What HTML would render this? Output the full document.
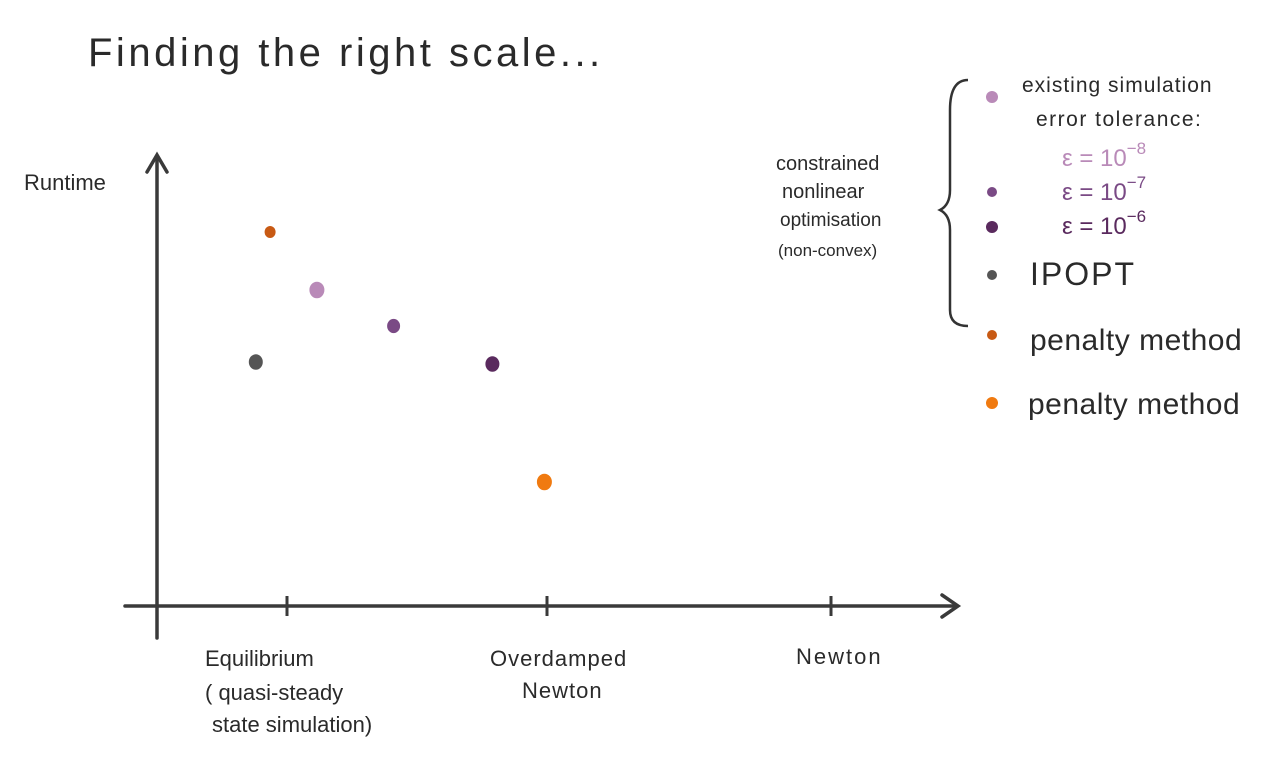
<!DOCTYPE html>
<html><head><meta charset="utf-8"><style>
html,body{margin:0;padding:0;background:#fff;width:1280px;height:768px;overflow:hidden}
svg{display:block}
text{font-family:"Liberation Sans",sans-serif;fill:#2a2a2a}
</style></head><body>
<svg id="chart" width="1280" height="768">
<text x="88" y="66" font-size="40" letter-spacing="3.5">Finding the right scale...</text>
<text x="24" y="190" font-size="22">Runtime</text>
<g stroke="#3a3a3a" stroke-width="3.5" fill="none" stroke-linecap="round">
<line x1="157" y1="638" x2="157" y2="158"/>
<polyline points="147,172 157,155 167,172"/>
<line x1="125" y1="606" x2="955" y2="606"/>
<polyline points="942,595 958,606 942,617"/>
</g>
<g id="ticks"></g>
<g id="points"></g>
<g font-size="22">
<text x="205" y="666">Equilibrium</text>
<text x="205" y="700">( quasi-steady</text>
<text x="212" y="732">state simulation)</text>
<text x="490" y="666" letter-spacing="1">Overdamped</text>
<text x="522" y="698" letter-spacing="1">Newton</text>
<text x="796" y="664" letter-spacing="2">Newton</text>
</g>
<g>
<text x="776" y="170" font-size="20">constrained</text>
<text x="782" y="198" font-size="20">nonlinear</text>
<text x="780" y="226" font-size="19">optimisation</text>
<text x="778" y="256" font-size="17">(non-convex)</text>
<path d="M968,80 Q950,80 950,110 L950,190 Q950,205 940,210 Q950,215 950,230 L950,310 Q950,326 968,326" stroke="#333" stroke-width="2.5" fill="none"/>
<circle cx="992" cy="97" r="6" fill="#b98ab8"/>
<text x="1022" y="92" font-size="21" letter-spacing="1">existing simulation</text>
<text x="1036" y="126" font-size="21" letter-spacing="1.5">error tolerance:</text>
<text x="1062" y="166" font-size="24" style="fill:#b98ab8">ε = 10<tspan dy="-12" font-size="17">−8</tspan></text>
<circle cx="992" cy="192" r="5" fill="#7a4a85"/>
<text x="1062" y="200" font-size="24" style="fill:#7a4a85">ε = 10<tspan dy="-12" font-size="17">−7</tspan></text>
<circle cx="992" cy="227" r="6" fill="#5a2a5e"/>
<text x="1062" y="234" font-size="24" style="fill:#5a2a5e">ε = 10<tspan dy="-12" font-size="17">−6</tspan></text>
<circle cx="992" cy="275" r="5" fill="#555"/>
<text x="1030" y="285" font-size="32" letter-spacing="2">IPOPT</text>
<circle cx="992" cy="335" r="5" fill="#c85a14"/>
<text x="1030" y="350" font-size="30" letter-spacing="0.5">penalty method</text>
<circle cx="992" cy="403" r="6" fill="#f07a10"/>
<text x="1028" y="414" font-size="30" letter-spacing="0.5">penalty method</text>
</g>
</svg>
<script>
const tickValues = [1, 2, 3];
const seriesNames = ["penalty-1", "existing-eps8", "eps7", "eps6", "ipopt", "penalty-2"];
const seriesX = [0.935, 1.115, 1.41, 1.79, 0.88, 1.99];
const seriesY = [9.35, 7.9, 7.0, 6.05, 6.1, 3.1];
const seriesColors = ["#c85a14", "#b98ab8", "#7a4a85", "#5a2a5e", "#555555", "#f07a10"];
const seriesSizes = [5.5, 7.5, 6.5, 7, 7, 7.5];
const xs = v => v <= 2 ? 287 + (v - 1) * 260 : 547 + (v - 2) * 284;
const ys = v => 606 - v * 40;
const NS = "http://www.w3.org/2000/svg";
const tg = document.getElementById("ticks");
tickValues.forEach((t, i) => {
  const l = document.createElementNS(NS, "line");
  l.setAttribute("x1", xs(t)); l.setAttribute("x2", xs(t));
  l.setAttribute("y1", 596); l.setAttribute("y2", 616);
  l.setAttribute("stroke", "#3a3a3a"); l.setAttribute("stroke-width", "3");
  
  
  tg.appendChild(l);
});
const pg = document.getElementById("points");
seriesX.forEach((x, i) => {
  const c = document.createElementNS(NS, "ellipse");
  c.setAttribute("cx", xs(x)); c.setAttribute("cy", ys(seriesY[i]));
  c.setAttribute("rx", seriesSizes[i]); c.setAttribute("ry", seriesSizes[i] * 1.1);
  c.setAttribute("fill", seriesColors[i]);
  
  
  pg.appendChild(c);
});
</script>
</body></html>
